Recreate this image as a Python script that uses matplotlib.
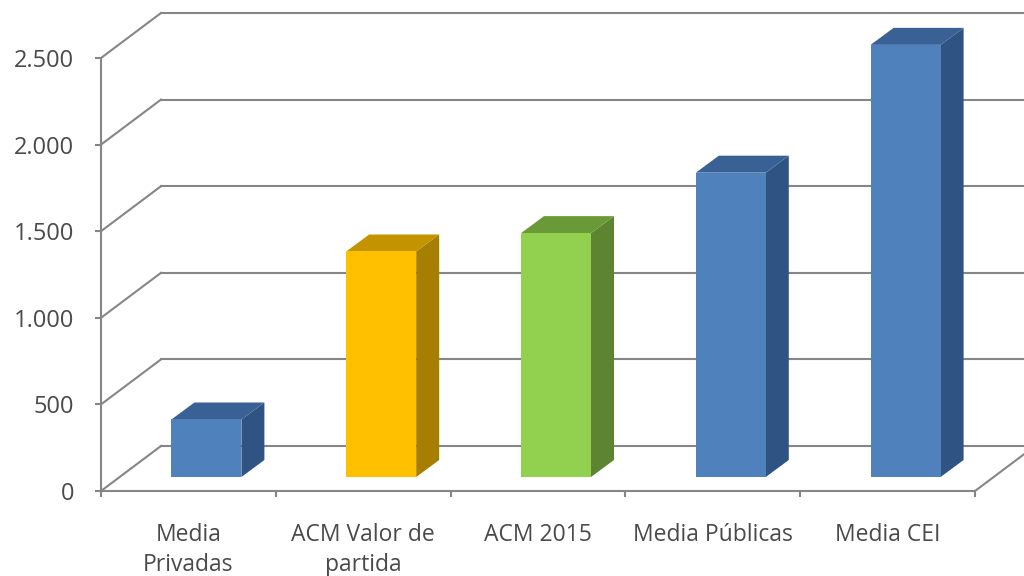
import matplotlib
matplotlib.use("Agg")
import matplotlib.pyplot as plt

categories = ["Media\nPrivadas", "ACM Valor de\npartida", "ACM 2015", "Media Públicas", "Media CEI"]
values = [332, 1302, 1408, 1757, 2495]
front_colors = ["#4F81BD", "#FFC000", "#92D050", "#4F81BD", "#4F81BD"]
top_colors = ["#3A6195", "#C49300", "#6A9A38", "#3A6195", "#3A6195"]
side_colors = ["#2F5383", "#A67E00", "#5C8431", "#2F5383", "#2F5383"]
y_ticks = [0, 500, 1000, 1500, 2000, 2500]
y_labels = ["0", "500", "1.000", "1.500", "2.000", "2.500"]

W, H = 1024, 576
L, R, B, T = 101, 975, 491, 58
GRAY = "#868686"
TEXT = "#4A4A4A"
FONT = "Open Sans"

fig = plt.figure(figsize=(W / 100, H / 100), dpi=100, facecolor="white")
ax = fig.add_axes([L / W, (H - B) / H, (R - L) / W, (B - T) / H])
ax.set_xlim(0, len(categories))
ax.set_ylim(0, y_ticks[-1])
ux = len(categories) / (R - L)   # data units per pixel
uy = y_ticks[-1] / (B - T)

# depth offsets in pixels: wall, bar start, bar depth
wall_dx, wall_dy = 60, 45
bar_dx, bar_dy = 18, 14
depth_dx, depth_dy = 23, 17
bar_w = 70 * ux

for s in ("top", "right"):
    ax.spines[s].set_visible(False)
for s in ("left", "bottom"):
    ax.spines[s].set_color(GRAY)
    ax.spines[s].set_linewidth(1.5)
ax.patch.set_alpha(0)

# back wall and floor
nx = len(categories)
for v in y_ticks:
    ax.plot([0, wall_dx * ux], [v, v + wall_dy * uy], color=GRAY, lw=1.5, clip_on=False, zorder=1)
    ax.plot([wall_dx * ux, nx + wall_dx * ux], [v + wall_dy * uy] * 2, color=GRAY, lw=1.5,
            clip_on=False, zorder=1)
ax.plot([nx, nx + wall_dx * ux], [0, wall_dy * uy], color=GRAY, lw=1.5, clip_on=False, zorder=1)

# bars
for i, (val, fc, tc, sc) in enumerate(zip(values, front_colors, top_colors, side_colors)):
    x0 = i + 0.5 + bar_dx * ux - bar_w / 2
    x1 = x0 + bar_w
    y0 = bar_dy * uy
    y1 = y0 + val
    dx, dy = depth_dx * ux, depth_dy * uy
    ax.fill([x1, x1 + dx, x1 + dx, x1], [y0, y0 + dy, y1 + dy, y1], color=sc, lw=0, zorder=3, clip_on=False)
    ax.fill([x0, x1, x1 + dx, x0 + dx], [y1, y1, y1 + dy, y1 + dy], color=tc, lw=0, zorder=3, clip_on=False)
    ax.bar(i + 0.5 + bar_dx * ux, val, width=bar_w, bottom=y0, color=fc, lw=0, zorder=4, clip_on=False)

ax.set_yticks(y_ticks)
ax.set_yticklabels(y_labels, family=FONT, fontsize=17, color=TEXT)
ax.tick_params(axis="y", length=4.5, width=1.5, color=GRAY, pad=15)
ax.set_xticks(range(nx + 1))
ax.set_xticklabels([])
ax.tick_params(axis="x", which="major", length=4.5, width=1.5, color=GRAY)
ax.set_xticks([i + 0.5 for i in range(nx)], minor=True)
ax.set_xticklabels(categories, minor=True, family=FONT, fontsize=16.5, color=TEXT, linespacing=1.36)
ax.tick_params(axis="x", which="minor", length=0, pad=23)

fig.savefig("out.png", dpi=100, facecolor="white")
